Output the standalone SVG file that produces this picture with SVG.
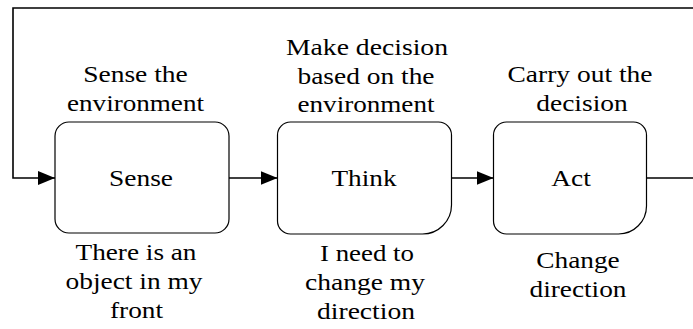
<svg xmlns="http://www.w3.org/2000/svg" width="693" height="329" viewBox="0 0 693 329">
<defs>
<style>
text{font-family:"Liberation Serif","Times New Roman",serif;font-size:24px;fill:#000;text-anchor:middle}
.box{fill:#fff;stroke:#000;stroke-width:1.2}
.conn{fill:none;stroke:#000;stroke-width:1.6}
</style>
<marker id="ah" viewBox="0 0 17 14" refX="17" refY="7" markerWidth="17" markerHeight="14" markerUnits="userSpaceOnUse" orient="auto">
<path d="M0 0 L17 7 L0 14 Z" fill="#000"/>
</marker>
</defs>
<rect width="693" height="329" fill="#fff"/>
<g id="connectors">
<path class="conn" d="M693 8 H13 V178 H55" marker-end="url(#ah)"/>
<path class="conn" d="M229 178 H277.5" marker-end="url(#ah)"/>
<path class="conn" d="M451.5 178 H493.5" marker-end="url(#ah)"/>
<path class="conn" d="M646.5 178 H693"/>
</g>
<g id="sense">
<rect class="box" x="55" y="122" width="174" height="111" rx="14"/>
<text x="141" y="186" textLength="64" lengthAdjust="spacingAndGlyphs">Sense</text>
<text x="135.5" y="82" textLength="104.6" lengthAdjust="spacingAndGlyphs">Sense the</text>
<text x="135.5" y="111" textLength="137" lengthAdjust="spacingAndGlyphs">environment</text>
<text x="136" y="260" textLength="121" lengthAdjust="spacingAndGlyphs">There is an</text>
<text x="134" y="289" textLength="137" lengthAdjust="spacingAndGlyphs">object in my</text>
<text x="136.5" y="318" textLength="53" lengthAdjust="spacingAndGlyphs">front</text>
</g>
<g id="think">
<path class="box" d="M290.5 122 H438.5 A13 13 0 0 1 451.5 135 V205 A29 29 0 0 1 422.5 234 H290.5 A13 13 0 0 1 277.5 221 V135 A13 13 0 0 1 290.5 122 Z"/>
<text x="364" y="186" textLength="65" lengthAdjust="spacingAndGlyphs">Think</text>
<text x="367" y="55" textLength="162" lengthAdjust="spacingAndGlyphs">Make decision</text>
<text x="366" y="84" textLength="137" lengthAdjust="spacingAndGlyphs">based on the</text>
<text x="366" y="112" textLength="137" lengthAdjust="spacingAndGlyphs">environment</text>
<text x="367" y="261" textLength="94" lengthAdjust="spacingAndGlyphs">I need to</text>
<text x="365" y="290" textLength="120" lengthAdjust="spacingAndGlyphs">change my</text>
<text x="366" y="319" textLength="98" lengthAdjust="spacingAndGlyphs">direction</text>
</g>
<g id="act">
<path class="box" d="M506.5 122 H633.5 A13 13 0 0 1 646.5 135 V206 A28 28 0 0 1 618.5 234 H506.5 A13 13 0 0 1 493.5 221 V135 A13 13 0 0 1 506.5 122 Z"/>
<text x="571" y="186" textLength="39.5" lengthAdjust="spacingAndGlyphs">Act</text>
<text x="580" y="82" textLength="145" lengthAdjust="spacingAndGlyphs">Carry out the</text>
<text x="582" y="111" textLength="91.5" lengthAdjust="spacingAndGlyphs">decision</text>
<text x="578" y="268" textLength="83.5" lengthAdjust="spacingAndGlyphs">Change</text>
<text x="578" y="297" textLength="97" lengthAdjust="spacingAndGlyphs">direction</text>
</g>
</svg>
